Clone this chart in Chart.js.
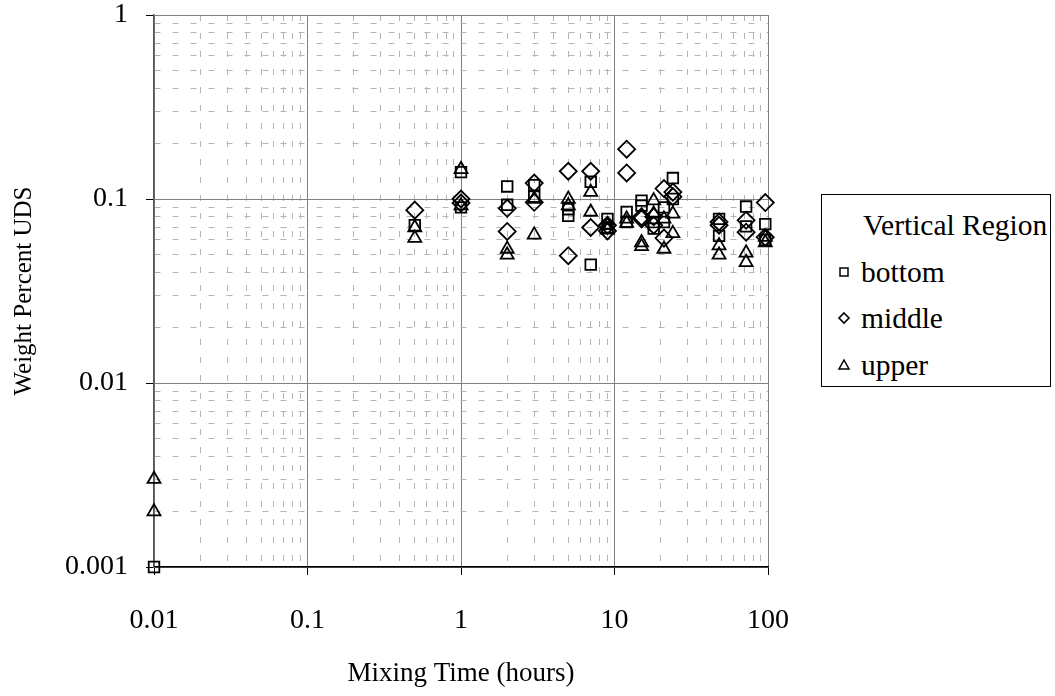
<!DOCTYPE html>
<html>
<head>
<meta charset="utf-8">
<script src="https://cdn.jsdelivr.net/npm/chart.js@4"></script>
<style>
  body { margin: 0; background: #fff; }
  #wrap { position: relative; width: 1055px; height: 696px; }
  #legendBox {
    position: absolute; left: 821px; top: 194px; width: 230px; height: 193px;
    border: 1px solid #000; box-sizing: border-box; background: #fff;
    font-family: "Liberation Serif", "Times New Roman", serif; font-size: 29.5px; color: #000;
  }
  #legendBox .row { position: absolute; left: 0; height: 32px; line-height: 32px; white-space: nowrap; }
  #legendBox svg { position: absolute; left: 14px; top: 8px; }
  #legendBox .lbl { position: absolute; left: 39px; }
</style>
</head>
<body>
<div id="wrap">
  <canvas id="myChart" width="1055" height="696"></canvas>
  <div id="legendBox">
    <div class="row" style="top:14px;"><span class="lbl" style="left:41px;">Vertical Region</span></div>
    <div class="row" style="top:61px;">
      <svg width="16" height="16"><rect x="4" y="4" width="8" height="8" fill="none" stroke="#000" stroke-width="1.5"/></svg>
      <span class="lbl">bottom</span></div>
    <div class="row" style="top:107px;">
      <svg width="16" height="16"><polygon points="8,3 13,8 8,13 3,8" fill="none" stroke="#000" stroke-width="1.6"/></svg>
      <span class="lbl">middle</span></div>
    <div class="row" style="top:154px;">
      <svg width="16" height="16"><polygon points="8,3 13,12 3,12" fill="none" stroke="#000" stroke-width="1.5"/></svg>
      <span class="lbl">upper</span></div>
  </div>
</div>
<script>
// mixing time (hours) and weight percent UDS
const bottomHours = [0.01, 0.5, 1, 1, 2, 2, 3, 3, 5, 5, 7, 7, 9, 9, 12, 12, 15, 15, 18, 18, 21, 21, 24, 24, 48, 48, 72, 72, 96, 96];
const bottomWt = [0.001, 0.072, 0.14, 0.09, 0.117, 0.093, 0.119, 0.103, 0.081, 0.088, 0.124, 0.044, 0.078, 0.070, 0.085, 0.075, 0.098, 0.092, 0.075, 0.069, 0.090, 0.075, 0.130, 0.100, 0.078, 0.063, 0.091, 0.071, 0.073, 0.060];

const middleHours = [0.5, 1, 1, 2, 2, 3, 3, 5, 5, 7, 7, 9, 9, 12, 12, 15, 15, 18, 18, 21, 21, 24, 24, 48, 48, 72, 72, 96, 96];
const middleWt = [0.087, 0.1, 0.095, 0.089, 0.0666, 0.122, 0.096, 0.1415, 0.0492, 0.1415, 0.070, 0.072, 0.067, 0.1865, 0.1386, 0.080, 0.078, 0.072, 0.080, 0.114, 0.0613, 0.109, 0.103, 0.075, 0.072, 0.0766, 0.066, 0.0956, 0.062];

const upperHours = [0.01, 0.01, 0.5, 0.5, 1, 1, 2, 2, 3, 3, 5, 5, 7, 7, 9, 9, 12, 12, 15, 15, 18, 18, 21, 21, 24, 24, 48, 48, 72, 72, 96, 96];
const upperWt = [0.003, 0.002, 0.07, 0.0613, 0.145, 0.092, 0.0535, 0.0497, 0.1, 0.0638, 0.1, 0.092, 0.109, 0.085, 0.068, 0.072, 0.078, 0.074, 0.058, 0.0553, 0.098, 0.083, 0.078, 0.0535, 0.083, 0.065, 0.0558, 0.0497, 0.051, 0.0453, 0.062, 0.058];

const xRange = [0.01, 100];
const yRange = [0.001, 1];

const serif = "'Liberation Serif', 'Times New Roman', serif";

function pairs(xs, ys) {
  return xs.map((x, i) => ({ x: x, y: ys[i] }));
}

function isDecade(v) {
  const l = Math.log10(v);
  return Math.abs(l - Math.round(l)) < 1e-9;
}

// 1..9 times each power of ten between min and max
function logTicks(scale) {
  const lo = Math.round(Math.log10(scale.min));
  const hi = Math.round(Math.log10(scale.max));
  const ticks = [];
  for (let e = lo; e < hi; e++) {
    for (let m = 1; m <= 9; m++) {
      ticks.push({ value: m === 1 ? Math.pow(10, e) : m * Math.pow(10, e) });
    }
  }
  ticks.push({ value: Math.pow(10, hi) });
  scale.ticks = ticks;
}

function gridColor(ctx) {
  return ctx.tick && isDecade(ctx.tick.value) ? "#808080" : "#b4b4b4";
}
function gridDash(ctx) {
  return ctx.tick && isDecade(ctx.tick.value) ? [] : [6, 12];
}
function tickMark(ctx) {
  return ctx.tick && isDecade(ctx.tick.value) ? "#000" : "rgba(0,0,0,0)";
}
function decadeLabel(v) {
  return isDecade(v) ? String(v) : "";
}

const marker = {
  borderColor: "#000",
  backgroundColor: "rgba(0,0,0,0)",
  borderWidth: 1.8,
  clip: false,
};

const ctx = document.getElementById("myChart").getContext("2d");

new Chart(ctx, {
  type: "scatter",
  data: {
    datasets: [
      { label: "bottom", data: pairs(bottomHours, bottomWt), pointStyle: "rect", pointRadius: 7.5, ...marker },
      { label: "middle", data: pairs(middleHours, middleWt), pointStyle: "rectRot", pointRadius: 8.5, ...marker },
      { label: "upper", data: pairs(upperHours, upperWt), pointStyle: "triangle", pointRadius: 7.5, ...marker },
    ],
  },
  options: {
    responsive: false,
    animation: false,
    devicePixelRatio: 1,
    layout: { padding: { top: 15, right: 287, left: 0, bottom: 0 } },
    plugins: {
      legend: { display: false },
      tooltip: { enabled: false },
    },
    scales: {
      x: {
        type: "logarithmic",
        min: xRange[0],
        max: xRange[1],
        afterBuildTicks: logTicks,
        afterFit: (s) => { s.height = 129; s.paddingLeft = 0; s.paddingRight = 0; },
        grid: { color: gridColor, lineWidth: 1, tickLength: 8, tickColor: tickMark, tickWidth: 1 },
        border: { color: "#000", width: 1.5, dash: gridDash },
        ticks: {
          autoSkip: false, maxRotation: 0, padding: 29, color: "#000",
          font: { family: serif, size: 28 },
          callback: decadeLabel,
        },
        title: {
          display: true, text: "Mixing Time (hours)", color: "#000",
          font: { family: serif, size: 27 }, padding: { top: 0, bottom: 6 },
        },
      },
      y: {
        type: "logarithmic",
        min: yRange[0],
        max: yRange[1],
        afterBuildTicks: logTicks,
        afterFit: (s) => { s.width = 154; s.paddingTop = 0; s.paddingBottom = 0; },
        grid: { color: gridColor, lineWidth: 1, tickLength: 8, tickColor: tickMark, tickWidth: 1 },
        border: { color: "#555", width: 1.5, dash: gridDash },
        ticks: {
          autoSkip: false, padding: 18, color: "#000",
          font: { family: serif, size: 28 },
          callback: decadeLabel,
        },
        title: {
          display: true, text: "Weight Percent UDS", color: "#000",
          font: { family: serif, size: 25 }, padding: { top: 9, bottom: 0 },
        },
      },
    },
  },
});
</script>
</body>
</html>
